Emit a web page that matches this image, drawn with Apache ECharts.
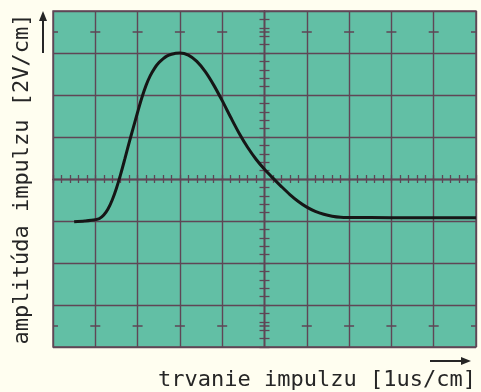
<!DOCTYPE html>
<html>
<head>
<meta charset="utf-8">
<script src="https://cdn.jsdelivr.net/npm/echarts@6/dist/echarts.min.js"></script>
<style>
  html, body { margin: 0; padding: 0; background: #fffef0; }
  #chart { width: 481px; height: 392px; }
</style>
</head>
<body>
<div id="chart"></div>
<script>
// Pulse waveform on an oscilloscope graticule: 1 us per division, 2 V per division
const timeUs = [0.5, 0.75, 1.0, 1.1, 1.2, 1.3, 1.4, 1.5, 1.6, 1.7, 1.8, 1.9, 2.0, 2.1, 2.2, 2.3,
                2.4, 2.5, 2.6, 2.7, 2.8, 2.9, 3.0, 3.2, 3.4, 3.6, 3.8, 4.0, 4.2, 4.4, 4.6, 4.8,
                5.0, 5.2, 5.4, 5.6, 5.8, 6.0, 6.2, 6.4, 6.6, 6.8, 7.0, 8.0, 9.0, 10.0];
const amplitudeV = [-2.04, -2.0, -1.94, -1.88, -1.72, -1.43, -1.0, -0.44, 0.23, 0.97, 1.73, 2.46, 3.18,
                    3.87, 4.46, 4.92, 5.27, 5.53, 5.72, 5.86, 5.94, 5.99, 6.0, 5.9, 5.6, 5.11, 4.47,
                    3.73, 2.94, 2.18, 1.51, 0.94, 0.46, 0.04, -0.36, -0.74, -1.07, -1.34, -1.54,
                    -1.68, -1.77, -1.82, -1.83, -1.84, -1.84, -1.84];
// Graticule layout: divisions and scale marks
const timeRange = [0, 10];
const voltRange = [-8, 8];
const markerRowsV = [7, -7];

const gridColor = '#5f4656';
const screenColor = '#62bfa5';
const textColor = '#262626';
const gridWidth = 1.4;

const chart = echarts.init(document.getElementById('chart'), null, { renderer: 'canvas' });

const hidden = {
  axisLabel: { show: false },
  axisTick: { show: false },
  splitLine: { show: false },
  axisLine: { show: false }
};

function centerX(inside) {
  return {
    type: 'value', min: timeRange[0], max: timeRange[1], interval: 1,
    axisLabel: { show: false }, splitLine: { show: false },
    axisLine: { show: true, onZero: true, onZeroAxisIndex: 0, lineStyle: { color: gridColor, width: gridWidth } },
    axisTick: { show: true, inside: inside, length: 4, lineStyle: { color: gridColor, width: 1.3 } },
    minorTick: { show: true, splitNumber: 5, length: 4, lineStyle: { color: gridColor, width: 1.3 } }
  };
}
function centerY(inside) {
  return {
    type: 'value', min: voltRange[0], max: voltRange[1], interval: 2,
    axisLabel: { show: false }, splitLine: { show: false },
    axisLine: { show: true, onZero: true, onZeroAxisIndex: 3, lineStyle: { color: gridColor, width: gridWidth } },
    axisTick: { show: true, inside: inside, length: 5, lineStyle: { color: gridColor, width: 1.3 } },
    minorTick: { show: true, splitNumber: 5, length: 5, lineStyle: { color: gridColor, width: 1.3 } }
  };
}

chart.setOption({
  backgroundColor: '#fffef0',
  animation: false,
  grid: {
    left: 53, top: 11, width: 423, height: 336,
    show: true, backgroundColor: screenColor, borderColor: gridColor, borderWidth: gridWidth
  },
  xAxis: [
    {
      type: 'value', min: timeRange[0], max: timeRange[1], interval: 1,
      axisLabel: { show: false }, axisTick: { show: false },
      axisLine: { show: false, onZero: false },
      splitLine: { show: true, lineStyle: { color: gridColor, width: gridWidth } }
    },
    centerX(false),
    centerX(true),
    Object.assign({ type: 'value', min: -5, max: 5 }, hidden)
  ],
  yAxis: [
    {
      type: 'value', min: voltRange[0], max: voltRange[1], interval: 2,
      axisLabel: { show: false }, axisTick: { show: false },
      axisLine: { show: false, onZero: false },
      splitLine: { show: true, lineStyle: { color: gridColor, width: gridWidth } },
      name: 'amplitúda impulzu [2V/cm]',
      nameLocation: 'middle', nameGap: 20,
      nameTextStyle: { fontFamily: 'DejaVu Sans Mono', fontSize: 22, color: textColor }
    },
    centerY(false),
    centerY(true)
  ],
  series: [
    {
      type: 'line',
      xAxisIndex: 0, yAxisIndex: 0,
      data: timeUs.map((t, i) => [t, amplitudeV[i]]),
      smooth: 0.3,
      showSymbol: false,
      lineStyle: { color: '#161616', width: 3 },
      silent: true,
      markLine: {
        silent: true,
        symbol: 'none',
        label: { show: false },
        lineStyle: { color: gridColor, width: 1.5, type: [10, 32.3], dashOffset: 5 },
        data: markerRowsV.map(v => ({ yAxis: v }))
      }
    }
  ],
  graphic: [
    {
      type: 'text', right: 5, top: 369,
      style: { text: 'trvanie impulzu [1us/cm]', font: '22px "DejaVu Sans Mono"', fill: textColor }
    },
    { type: 'line', shape: { x1: 430, y1: 361, x2: 463, y2: 361 }, style: { stroke: textColor, lineWidth: 2 } },
    { type: 'polygon', shape: { points: [[471, 361], [461, 357], [461, 365]] }, style: { fill: textColor } },
    { type: 'line', shape: { x1: 43, y1: 53, x2: 43, y2: 20 }, style: { stroke: textColor, lineWidth: 2 } },
    { type: 'polygon', shape: { points: [[43, 11], [39, 21], [47, 21]] }, style: { fill: textColor } }
  ]
});
</script>
</body>
</html>
